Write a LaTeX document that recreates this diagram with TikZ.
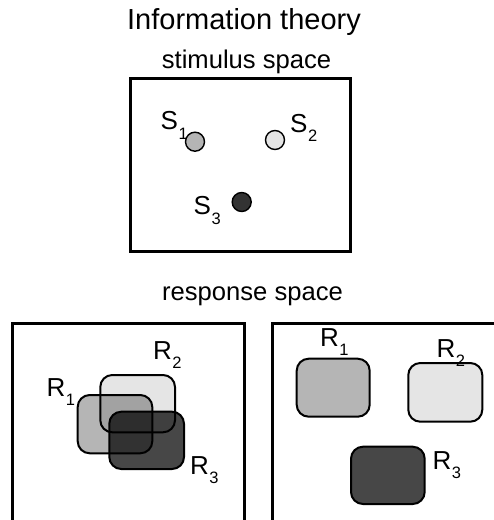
\documentclass[tikz,border=0pt]{standalone}
\usepackage{fontspec}
\setmainfont{Liberation Sans}
\definecolor{gone}{HTML}{B5B5B5}
\definecolor{gtwo}{HTML}{E5E5E5}
\definecolor{gthree}{HTML}{474747}
\definecolor{sthree}{HTML}{333333}
\newcommand{\lbl}[2]{#1\kern0.5pt\raisebox{-9.5pt}{\fontsize{16.5}{16.5}\selectfont #2}}
\tikzset{
  frame/.style={draw=black, line width=3pt},
  dot/.style={draw=black, line width=1.4pt},
  region/.style={draw=black, line width=2pt, rounded corners=12pt},
  txt/.style={inner sep=0pt, anchor=base west, font=\fontsize{26}{26}\selectfont},
  head/.style={inner sep=0pt, anchor=base, font=\fontsize{29}{29}\selectfont},
  sub/.style={inner sep=0pt, anchor=base, font=\fontsize{25.6}{25.6}\selectfont},
}
\begin{document}
\begin{tikzpicture}[x=1pt, y=-1pt]
\useasboundingbox (0,0) rectangle (494,520);
\clip (0,0) rectangle (494,520);
\fill[white] (0,0) rectangle (494,520);
% titles
\node[head] (title) at (244,29) {Information theory};
\node[sub] (stim) at (246.5,68.3) {stimulus space};
\node[sub] (resp) at (252.5,300) {response space};
% stimulus box
\draw[frame] (130.5,78.5) rectangle (350.5,251.5);
\draw[dot, fill=gone] (195,141.7) circle (9.5);
\draw[dot, fill=gtwo] (275,140) circle (9.5);
\draw[dot, fill=sthree] (241.7,202) circle (9.5);
\node[txt] (s1) at (160.5,129.5) {\lbl{S}{1}};
\node[txt] (s2) at (290,132) {\lbl{S}{2}};
\node[txt] (s3) at (193.5,214.5) {\lbl{S}{3}};
% left response box
\draw[frame] (12.5,323.5) rectangle (244,521);
\begin{scope}[blend group=multiply]
\draw[region, fill=gone] (77.7,395) rectangle (152.3,453.3);
\draw[region, fill=gtwo] (100.3,375) rectangle (175,432.3);
\draw[region, fill=gthree] (109.3,411.7) rectangle (184,469);
\end{scope}
\node[txt] (l1) at (46.5,396) {\lbl{R}{1}};
\node[txt] (l2) at (153,359) {\lbl{R}{2}};
\node[txt] (l3) at (190,474) {\lbl{R}{3}};
% right response box
\draw[frame] (272.5,323.5) rectangle (500,521);
\draw[region, fill=gone] (296.7,358.7) rectangle (369.7,416.7);
\draw[region, fill=gtwo] (408.3,363) rectangle (482.3,421.7);
\draw[region, fill=gthree] (351,446.7) rectangle (424.7,504);
\node[txt] (r1) at (320,346) {\lbl{R}{1}};
\node[txt] (r2) at (436.5,357) {\lbl{R}{2}};
\node[txt] (r3) at (432.5,469) {\lbl{R}{3}};
\end{tikzpicture}
\end{document}
